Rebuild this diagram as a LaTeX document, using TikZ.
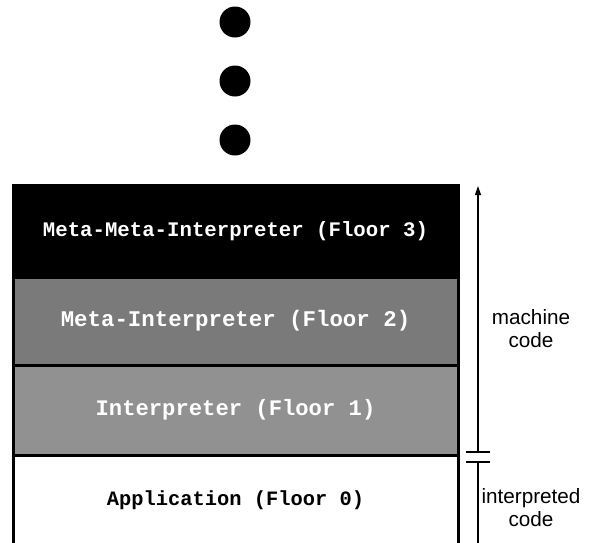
\documentclass[tikz,border=0pt]{standalone}
\usepackage{fontspec}
\setmonofont{Liberation Mono}
\setsansfont{Liberation Sans}
\usepackage{xcolor}
\usepackage{tikz}
\usetikzlibrary{positioning,arrows.meta}
\definecolor{floorblack}{RGB}{0,0,0}
\definecolor{floordark}{RGB}{122,122,122}
\definecolor{floorlight}{RGB}{145,145,145}

\begin{document}
\begin{tikzpicture}[x=1pt, y=-1pt,
    floor/.style={draw=black, line width=3pt, minimum width=445pt, minimum height=90pt,
                  inner sep=0pt, font=\ttfamily\bfseries},
    dot/.style={circle, fill=black, minimum size=31pt, inner sep=0pt},
    side/.style={font=\sffamily\fontsize{20.7}{23}\selectfont, align=center}]
            \clip (0,0) rectangle (593,542);
            % the dots above the tower
            \node[dot] (dotA) at (235,22) {};
            \node[dot] (dotB) at (235,81) {};
            \node[dot] (dotC) at (235,140) {};
            % the floors
            \node[floor, fill=floorblack, minimum height=92pt, text=white] (floor3) at (235.5,231) {
                \fontsize{20.7}{24}\selectfont Meta-Meta-Interpreter (Floor 3)
            };
            \node[floor, fill=floordark, minimum height=88pt, text=white] (floor2) at (235.5,321) {
                \fontsize{22.4}{24}\selectfont Meta-Interpreter (Floor 2)
            };
            \node[floor, fill=floorlight, text=white] (floor1) at (235.5,410) {
                \fontsize{22.2}{24}\selectfont Interpreter (Floor 1)
            };
            \node[floor, fill=white, text=black] (floor0) at (235.5,500) {
                \fontsize{20.4}{24}\selectfont Application (Floor 0)
            };
            % the scale on the right
            \coordinate (mtop) at (478,186);
            \coordinate (mbot) at (478,452);
            \coordinate (itop) at (478,462);
            \coordinate (ibot) at (478,560);
            \draw[line width=1.2pt, -{Triangle[length=9pt, width=6pt]}] (mbot) -- (mtop);
            \draw[line width=1.2pt] ([xshift=-12pt]mbot) -- ([xshift=12pt]mbot);
            \draw[line width=1.2pt] ([xshift=-12pt]itop) -- ([xshift=12pt]itop);
            \draw[line width=1.2pt] (itop) -- (ibot);
            \node[side] (machine) at (531,329) {machine\\code};
            \node[side] (interp) at (531,508) {interpreted\\code};
        \end{tikzpicture}
\end{document}
